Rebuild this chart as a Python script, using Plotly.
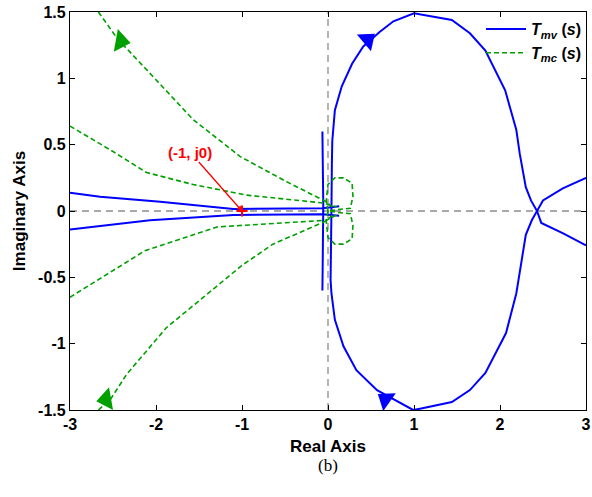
import plotly.graph_objects as go

# ---- data ----
# T_mv (blue) : big loop, upper then lower half
mv_loop_up_x = [0.04, 0.04, 0.045, 0.05, 0.08, 0.16, 0.28, 0.41, 0.60, 0.76, 1.0, 1.44, 1.65, 1.83, 2.06, 2.19, 2.23, 2.30, 2.36, 2.43]
mv_loop_up_y = [0.0, 0.15, 0.35, 0.53, 0.76, 0.94, 1.11, 1.24, 1.35, 1.43, 1.49, 1.44, 1.34, 1.21, 0.91, 0.61, 0.43, 0.18, 0.08, 0.0]
mv_loop_lo_x = [2.43, 2.37, 2.30, 2.23, 2.19, 2.07, 1.83, 1.65, 1.44, 1.07, 0.99, 0.57, 0.33, 0.18, 0.08, 0.04, 0.03, 0.04]
mv_loop_lo_y = [0.0, -0.07, -0.18, -0.44, -0.62, -0.92, -1.22, -1.35, -1.44, -1.49, -1.5, -1.35, -1.2, -1.02, -0.82, -0.62, -0.52, 0.0]
# branches leaving the crossing to the right
mv_right_up_x = [2.43, 2.50, 2.73, 3.0]
mv_right_up_y = [0.0, 0.08, 0.17, 0.25]
mv_right_lo_x = [2.43, 2.48, 2.74, 3.0]
mv_right_lo_y = [0.0, -0.09, -0.17, -0.26]
# branches coming from the left
mv_left_up_x = [-3.0, -2.65, -1.95, -1.1, -0.06, 0.13]
mv_left_up_y = [0.138, 0.108, 0.07, 0.015, 0.02, 0.035]
mv_left_lo_x = [-3.0, -2.07, -1.1, -0.06, 0.13]
mv_left_lo_y = [-0.14, -0.07, -0.03, -0.025, -0.035]
# near-vertical segment close to the imaginary axis
mv_vert_x = [-0.065, -0.06, -0.055, -0.06, -0.065]
mv_vert_y = [0.6, 0.3, 0.05, -0.3, -0.6]

# T_mc (green dashed)
mc_a_up_x = [-2.67, -2.45, -2.03, -1.57, -1.02, -0.48, -0.02, 0.05]
mc_a_up_y = [1.5, 1.3, 1.01, 0.69, 0.41, 0.22, 0.07, 0.03]
mc_b_up_x = [-3.0, -2.53, -2.11, -1.57, -0.95, -0.05, 0.1]
mc_b_up_y = [0.64, 0.46, 0.29, 0.2, 0.12, 0.06, 0.03]
mc_b_lo_x = [-3.0, -2.13, -1.29, -0.02, 0.1]
mc_b_lo_y = [-0.65, -0.30, -0.12, -0.07, -0.03]
mc_a_lo_x = [-2.67, -2.53, -2.34, -1.88, -1.0, -0.64, -0.02, 0.05]
mc_a_lo_y = [-1.5, -1.42, -1.23, -0.88, -0.41, -0.25, -0.075, -0.03]
mc_loop_up_x = [0.0, -0.02, 0.0, 0.08, 0.18, 0.28, 0.29, 0.26, 0.1, 0.0]
mc_loop_up_y = [0.0, 0.08, 0.2, 0.25, 0.25, 0.21, 0.11, 0.02, 0.01, 0.0]
mc_loop_lo_x = [0.0, -0.02, 0.0, 0.08, 0.18, 0.28, 0.29, 0.26, 0.1, 0.0]
mc_loop_lo_y = [0.0, -0.08, -0.2, -0.25, -0.25, -0.21, -0.11, -0.02, -0.01, 0.0]

# direction arrows (position, screen angle in degrees)
mv_arrow_x = [0.46, 0.67]
mv_arrow_y = [1.29, -1.42]
mv_arrow_ang = [50, -55]
mc_arrow_x = [-2.41, -2.58]
mc_arrow_y = [1.28, -1.42]
mc_arrow_ang = [100, -100]

crit_x = [-1]
crit_y = [0]

x_ticks = [-3, -2, -1, 0, 1, 2, 3]
y_ticks = [-1.5, -1, -0.5, 0, 0.5, 1, 1.5]
y_tick_labels = ["-1.5", "-1", "-0.5", "0", "0.5", "1", "1.5"]


def join(*segs):
    xs, ys = [], []
    for sx, sy in segs:
        if xs:
            xs.append(None)
            ys.append(None)
        xs += list(sx)
        ys += list(sy)
    return xs, ys


BLUE = "#0000FF"
GREEN = "#00A000"
FONT = "Liberation Sans, Arial, sans-serif"

bx, by = join((mv_loop_up_x + mv_loop_lo_x[1:], mv_loop_up_y + mv_loop_lo_y[1:]),
              (mv_right_up_x, mv_right_up_y), (mv_right_lo_x, mv_right_lo_y),
              (mv_left_up_x, mv_left_up_y), (mv_left_lo_x, mv_left_lo_y),
              (mv_vert_x, mv_vert_y))
gx, gy = join((mc_a_up_x, mc_a_up_y), (mc_b_up_x, mc_b_up_y),
              (mc_b_lo_x, mc_b_lo_y), (mc_a_lo_x, mc_a_lo_y),
              (mc_loop_up_x, mc_loop_up_y), (mc_loop_lo_x, mc_loop_lo_y))

fig = go.Figure()
fig.add_trace(go.Scatter(x=bx, y=by, mode="lines", line=dict(color=BLUE, width=2),
                         name="<b><i>T</i><sub><i>mv</i></sub> (<i>s</i>)</b>"))
fig.add_trace(go.Scatter(x=gx, y=gy, mode="lines", line=dict(color=GREEN, width=1.6, dash="5px,3px"),
                         name="<b><i>T</i><sub><i>mc</i></sub> (<i>s</i>)</b>"))
fig.add_trace(go.Scatter(x=mv_arrow_x, y=mv_arrow_y, mode="markers", showlegend=False,
                         marker=dict(symbol="triangle-up", size=19, color=BLUE, angle=mv_arrow_ang,
                                     line=dict(width=0))))
fig.add_trace(go.Scatter(x=mc_arrow_x, y=mc_arrow_y, mode="markers", showlegend=False,
                         marker=dict(symbol="triangle-up", size=20, color=GREEN, angle=mc_arrow_ang,
                                     line=dict(width=0))))
fig.add_trace(go.Scatter(x=crit_x, y=crit_y, mode="markers", showlegend=False,
                         marker=dict(symbol="cross-thin", size=8, line=dict(color="red", width=2))))

# dashed axes through the origin
fig.add_shape(type="line", xref="x", yref="paper", x0=0, x1=0, y0=0, y1=1,
              line=dict(color="#8C8C8C", width=1.3, dash="7px,5px"), layer="below")
fig.add_shape(type="line", xref="paper", yref="y", x0=0, x1=1, y0=0, y1=0,
              line=dict(color="#8C8C8C", width=1.3, dash="7px,5px"), layer="below")

fig.add_annotation(x=crit_x[0], y=crit_y[0], xref="x", yref="y", text="<b>(-1, j0)</b>",
                   showarrow=True, arrowhead=2, arrowsize=0.8, arrowwidth=1.3, arrowcolor="red",
                   ax=-52, ay=-59, font=dict(family=FONT, size=15, color="red"))
fig.add_annotation(x=0.5, y=-0.14, xref="paper", yref="paper", text="(b)", showarrow=False,
                   yanchor="middle",
                   font=dict(family="Liberation Serif, Times New Roman, serif", size=17, color="black"))

axis_common = dict(showline=True, linecolor="black", linewidth=1.2, mirror="ticks",
                   ticks="inside", ticklen=5, tickcolor="black", showgrid=False, zeroline=False,
                   automargin=False,
                   tickfont=dict(family=FONT, size=16, color="black", weight="bold"))
fig.update_xaxes(range=[-3, 3], tickvals=x_ticks, ticktext=[str(v) for v in x_ticks],
                 title=dict(text="<b>Real Axis</b>", font=dict(family=FONT, size=17, color="black"),
                            standoff=7), **axis_common)
fig.update_yaxes(range=[-1.5, 1.5], tickvals=y_ticks, ticktext=y_tick_labels,
                 title=dict(text="<b>Imaginary Axis</b>", font=dict(family=FONT, size=17, color="black"),
                            standoff=8), **axis_common)

fig.update_layout(width=592, height=497, margin=dict(l=70, r=6, t=12, b=87),
                  plot_bgcolor="white", paper_bgcolor="white",
                  legend=dict(x=1, y=1, xanchor="right", yanchor="top", bgcolor="rgba(255,255,255,0)",
                              font=dict(family=FONT, size=16, color="black"),
                              tracegroupgap=0, itemwidth=40),
                  showlegend=True)

fig.write_html("out.html", config={"displayModeBar": False},
               post_script="document.body.style.margin='0';document.body.style.overflow='hidden';")
